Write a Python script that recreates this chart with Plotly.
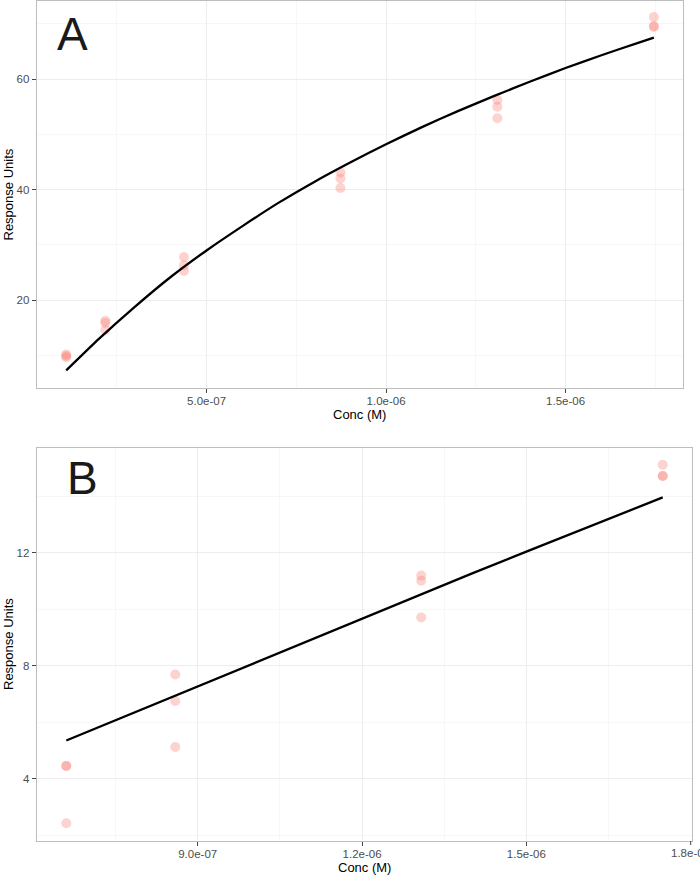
import plotly.graph_objects as go

# ---------------- Data ----------------
# Panel A observations
a_conc = [1.09e-7]*3 + [2.18e-7]*3 + [4.37e-7]*3 + [8.73e-7]*3 + [1.31e-6]*3 + [1.746e-6]*3
a_resp = [9.7, 9.9, 10.2,
          16.3, 15.9, 14.6,
          27.8, 26.3, 25.3,
          43.1, 42.0, 40.3,
          56.2, 55.0, 52.9,
          71.2, 69.6, 69.4]
# Panel A fitted curve
a_fit_conc = [1.09e-7, 2e-7, 3e-7, 4e-7, 5e-7, 6e-7, 7e-7, 8e-7, 9e-7, 1.0e-6,
              1.1e-6, 1.2e-6, 1.3e-6, 1.4e-6, 1.5e-6, 1.6e-6, 1.7e-6, 1.746e-6]
a_fit_resp = [7.3, 13.0, 18.8, 24.2, 29.0, 33.4, 37.6, 41.4, 44.9, 48.2,
              51.3, 54.2, 56.9, 59.5, 62.0, 64.3, 66.5, 67.5]

# Panel B observations
b_conc = [6.6e-7]*3 + [8.59e-7]*3 + [1.308e-6]*3 + [1.749e-6]*3
b_resp = [4.45, 4.45, 2.42,
          7.69, 6.75, 5.12,
          11.19, 11.01, 9.71,
          15.12, 14.72, 14.72]
# Panel B fitted line
b_fit_conc = [6.6e-7, 7e-7, 8e-7, 9e-7, 1.0e-6, 1.1e-6, 1.2e-6, 1.3e-6,
              1.4e-6, 1.5e-6, 1.6e-6, 1.7e-6, 1.749e-6]
b_fit_resp = [5.35, 5.67, 6.47, 7.26, 8.07, 8.88, 9.68, 10.47,
              11.26, 12.04, 12.80, 13.57, 13.96]

# Tick labels
a_xticks = [5.0e-7, 1.0e-6, 1.5e-6]
a_xticktext = ["5.0e-07", "1.0e-06", "1.5e-06"]
a_yticks = [20, 40, 60]
b_xticks = [9.0e-7, 1.2e-6, 1.5e-6, 1.8e-6]
b_xticktext = ["9.0e-07", "1.2e-06", "1.5e-06", "1.8e-06"]
b_yticks = [4, 8, 12]

# ---------------- Figure ----------------
W, H = 700, 877
FONT = "Liberation Sans, Arial, sans-serif"
PT_COLOR = "rgba(248,118,109,0.32)"
TICK_COLOR = "#4D4D4D"
TICK_SIZE = 11.5

fig = go.Figure()
fig.add_trace(go.Scatter(x=a_conc, y=a_resp, mode="markers",
                         marker=dict(size=10, color=PT_COLOR, line=dict(width=0)),
                         xaxis="x", yaxis="y", showlegend=False))
fig.add_trace(go.Scatter(x=a_fit_conc, y=a_fit_resp, mode="lines",
                         line=dict(color="black", width=2.3, shape="spline", smoothing=0.6),
                         xaxis="x", yaxis="y", showlegend=False))
fig.add_trace(go.Scatter(x=b_conc, y=b_resp, mode="markers",
                         marker=dict(size=10, color=PT_COLOR, line=dict(width=0)),
                         xaxis="x2", yaxis="y2", showlegend=False))
fig.add_trace(go.Scatter(x=b_fit_conc, y=b_fit_resp, mode="lines",
                         line=dict(color="black", width=2.3),
                         xaxis="x2", yaxis="y2", showlegend=False))

def px_x(v):
    return v / W

def px_y(v):
    return 1 - v / H

axis_common = dict(
    showline=True, mirror=True, linecolor="#BDBDBD", linewidth=1,
    showgrid=True, gridcolor="#EDEDED", gridwidth=1,
    ticks="outside", ticklen=4, tickwidth=1, tickcolor="#444444",
    tickfont=dict(family=FONT, size=TICK_SIZE, color=TICK_COLOR),
    zeroline=False, automargin=False,
)

minor = dict(showgrid=True, gridcolor="#F7F7F7", gridwidth=1, ticks="")

fig.update_layout(
    width=W, height=H,
    margin=dict(l=0, r=0, t=0, b=0, autoexpand=False),
    paper_bgcolor="white", plot_bgcolor="white",
    font=dict(family=FONT),
    xaxis=dict(domain=[px_x(36.7), px_x(683.3)], range=[2.68e-8, 1.828e-6],
               tickmode="array", tickvals=a_xticks, ticktext=a_xticktext,
               ticklabelstandoff=-2,
               minor=dict(tickmode="array", tickvals=[2.5e-7, 7.5e-7, 1.25e-6, 1.75e-6], **minor),
               anchor="y", **axis_common),
    yaxis=dict(domain=[px_y(388.3), px_y(0.5)], range=[4.07, 74.2],
               tickmode="array", tickvals=a_yticks,
               minor=dict(tickmode="array", tickvals=[10, 30, 50, 70], **minor),
               anchor="x", **axis_common),
    xaxis2=dict(domain=[px_x(36.7), px_x(692.3)], range=[6.06e-7, 1.803e-6],
                tickmode="array", tickvals=b_xticks[:3], ticktext=b_xticktext[:3],
                ticklabelstandoff=-2,
                minor=dict(tickmode="array", tickvals=[7.5e-7, 1.05e-6, 1.35e-6, 1.65e-6], **minor),
                anchor="y2", **axis_common),
    yaxis2=dict(domain=[px_y(841), px_y(448.3)], range=[1.79, 15.70],
                tickmode="array", tickvals=b_yticks,
                minor=dict(tickmode="array", tickvals=[2, 6, 10, 14], **minor),
                anchor="x2", **axis_common),
)

# last bottom tick (sits on the right edge, partly cut off as in the original)
fig.add_shape(type="line", xref="x2", yref="paper",
              x0=b_xticks[3], x1=b_xticks[3], y0=px_y(841), y1=px_y(845),
              line=dict(color="#444444", width=1))

annots = [
    dict(text="A", x=px_x(72.5), y=px_y(34), font=dict(size=46, color="#1a1a1a")),
    dict(text="B", x=px_x(82), y=px_y(477.5), font=dict(size=46, color="#1a1a1a")),
    dict(text="Response Units", x=px_x(8), y=px_y(194.5), textangle=-90, font=dict(size=13, color="black")),
    dict(text="Response Units", x=px_x(8), y=px_y(644), textangle=-90, font=dict(size=13, color="black")),
    dict(text="Conc (M)", x=px_x(360), y=px_y(415), font=dict(size=13, color="black")),
    dict(text="Conc (M)", x=px_x(364.5), y=px_y(867), font=dict(size=13, color="black")),
    dict(text=b_xticktext[3], x=px_x(690.7), y=px_y(853), font=dict(size=TICK_SIZE, color=TICK_COLOR)),
]
for a in annots:
    a.update(xref="paper", yref="paper", showarrow=False, xanchor="center", yanchor="middle")
    a["font"]["family"] = FONT
fig.update_layout(annotations=annots)

fig.write_html("out.html", config={"displayModeBar": False},
               post_script="document.body.style.margin='0';document.body.style.overflow='hidden';")
